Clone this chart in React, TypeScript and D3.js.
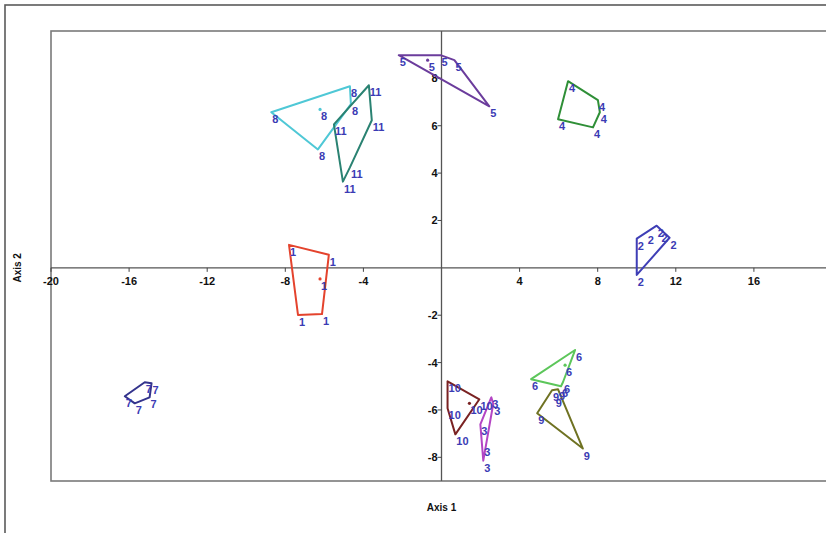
import React from "react";
import * as d3 from "d3";

type Pt = [number, number];

// Scores of each group on the two axes
const group1: Pt[] = [[-7.81, 0.97], [-5.77, 0.55], [-6.12, -1.95], [-7.35, -1.99]];
const group2: Pt[] = [[10.0, 1.23], [10.51, 1.48], [11.02, 1.78], [11.22, 1.57], [11.68, 1.27], [10.0, -0.3]];
const group3: Pt[] = [[2.55, -5.47], [2.65, -5.74], [1.99, -6.61], [2.14, -7.46], [2.14, -8.14]];
const group4: Pt[] = [[6.48, 7.88], [8.01, 7.08], [8.11, 6.57], [7.76, 5.93], [5.97, 6.27]];
const group5: Pt[] = [[-2.19, 8.98], [-0.05, 8.98], [0.66, 8.77], [2.45, 6.82]];
const group6: Pt[] = [[6.84, -3.47], [4.59, -4.7], [6.22, -4.83], [6.12, -5.0]];
const group7: Pt[] = [[-16.22, -5.42], [-15.2, -4.83], [-14.85, -4.87], [-14.95, -5.47], [-15.71, -5.72]];
const group8: Pt[] = [[-8.72, 6.57], [-4.69, 7.67], [-4.64, 6.91], [-6.33, 5.0]];
const group9: Pt[] = [[5.66, -5.17], [5.97, -5.13], [5.8, -5.4], [4.9, -6.14], [7.24, -7.63]];
const group10: Pt[] = [[0.31, -4.79], [1.94, -5.55], [0.71, -7.03], [0.31, -5.93]];
const group11: Pt[] = [[-3.72, 7.71], [-3.57, 6.23], [-5.51, 6.06], [-4.69, 4.24], [-5.05, 3.64]];

// Group centres that are marked with a small dot
const centroidGroups = ["1", "5", "6", "8", "10"];
const centroidPoints: Pt[] = [[-6.22, -0.47], [-0.71, 8.77], [6.33, -4.11], [-6.22, 6.69], [1.43, -5.72]];

const groupNames = ["1", "2", "3", "4", "5", "6", "7", "8", "9", "10", "11"];
const groupColors = [
  "#e4432d", "#3f3fb6", "#b445c4", "#2f8f37", "#6b3c9c", "#5cc65a",
  "#33338c", "#4fc8d6", "#6f7222", "#7a2222", "#2a8272",
];
const groups = [group1, group2, group3, group4, group5, group6, group7, group8, group9, group10, group11];

const xTicks = [-20, -16, -12, -8, -4, 4, 8, 12, 16];
const yTicks = [8, 6, 4, 2, -2, -4, -6, -8];

const W = 826;
const H = 533;
const labelColor = "#3b3bb4";
const font = "'Liberation Sans', Arial, sans-serif";

export default function App() {
  const x = d3.scaleLinear().domain([-20, 20]).range([51, 832]);
  const y = d3.scaleLinear().domain([-9, 10]).range([481, 31]);
  const x0 = x(0);
  const y0 = y(0);

  return (
    <svg
      width={W}
      height={H}
      style={{ position: "absolute", left: 0, top: 0, background: "#fff" }}
      fontFamily={font}
    >
      {/* outer figure frame */}
      <rect x={5} y={5} width={W + 20} height={H + 20} fill="none" stroke="#5a5a5a" strokeWidth={1.6} />
      {/* plot frame */}
      <rect x={x(-20)} y={y(10)} width={x(20) - x(-20)} height={y(-9) - y(10)} fill="#fff" stroke="#7a7a7a" strokeWidth={1.6} />

      {/* axes through the origin */}
      <line x1={x(-20)} x2={x(20)} y1={y0} y2={y0} stroke="#555" strokeWidth={1.3} />
      <line x1={x0} x2={x0} y1={y(10)} y2={y(-9)} stroke="#555" strokeWidth={1.3} />

      {xTicks.map((t) => (
        <g key={"xt" + t}>
          <line x1={x(t)} x2={x(t)} y1={y0} y2={y0 + 4} stroke="#444" strokeWidth={1} />
          <text x={x(t)} y={y0 + 17} textAnchor="middle" fontSize={11} fontWeight="bold" fill="#111">
            {t}
          </text>
        </g>
      ))}
      {yTicks.map((t) => (
        <g key={"yt" + t}>
          <line x1={x0 - 4} x2={x0} y1={y(t)} y2={y(t)} stroke="#444" strokeWidth={1} />
          <text x={x0 - 4} y={y(t) + 4} textAnchor="end" fontSize={11} fontWeight="bold" fill="#111">
            {t}
          </text>
        </g>
      ))}

      {/* convex hull around each group */}
      {groups.map((g, i) => {
        const hull = d3.polygonHull(g.map((p) => [x(p[0]), y(p[1])] as [number, number]));
        if (!hull) return null;
        return (
          <path
            key={"h" + i}
            d={"M" + hull.map((p) => p.join(",")).join("L") + "Z"}
            fill="none"
            stroke={groupColors[i]}
            strokeWidth={2}
            strokeLinejoin="round"
          />
        );
      })}

      {/* group centres */}
      {centroidPoints.map((p, i) => {
        const gi = groupNames.indexOf(centroidGroups[i]);
        return (
          <g key={"c" + i}>
            <circle cx={x(p[0])} cy={y(p[1])} r={1.6} fill={groupColors[gi]} />
            <text x={x(p[0]) + 1} y={y(p[1]) + 11} fontSize={11} fontWeight="bold" fill={labelColor}>
              {centroidGroups[i]}
            </text>
          </g>
        );
      })}

      {/* point labels */}
      {groups.map((g, i) =>
        g.map((p, j) => (
          <text
            key={"l" + i + "-" + j}
            x={x(p[0]) + 1}
            y={y(p[1]) + 11}
            fontSize={11}
            fontWeight="bold"
            fill={labelColor}
          >
            {groupNames[i]}
          </text>
        ))
      )}

      {/* axis titles */}
      <text x={x0} y={511} textAnchor="middle" fontSize={10} fontWeight="bold" fill="#111">
        Axis 1
      </text>
      <text
        transform={`translate(21,${y0}) rotate(-90)`}
        textAnchor="middle"
        fontSize={10}
        fontWeight="bold"
        fill="#111"
      >
        Axis 2
      </text>
    </svg>
  );
}
